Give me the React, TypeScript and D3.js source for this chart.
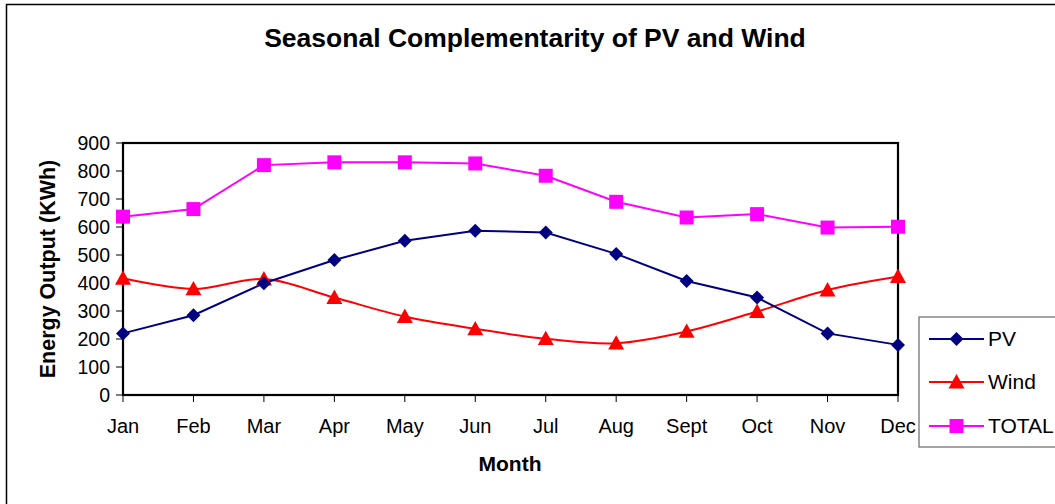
import React from "react";
import * as d3 from "d3";

const months = ["Jan", "Feb", "Mar", "Apr", "May", "Jun", "Jul", "Aug", "Sept", "Oct", "Nov", "Dec"];
const pv = [220, 285, 399, 482, 551, 587, 580, 504, 407, 348, 220, 179];
const wind = [417, 379, 414, 348, 280, 236, 201, 185, 227, 298, 375, 423];
const total = [637, 664, 821, 831, 831, 827, 783, 690, 634, 646, 598, 601];
const yTicks = [0, 100, 200, 300, 400, 500, 600, 700, 800, 900];

const W = 1055, H = 504;
const plot = { left: 123, right: 898, top: 143, bottom: 395 };
const font = "Arial, 'Liberation Sans', Helvetica, sans-serif";

export default function App() {
  const x = d3.scalePoint<string>().domain(months).range([plot.left, plot.right]);
  const y = d3.scaleLinear().domain([0, 900]).range([plot.bottom, plot.top]);

  const straight = d3.line<number>().x((_, i) => x(months[i])!).y((d) => y(d));
  const smooth = d3
    .line<number>()
    .x((_, i) => x(months[i])!)
    .y((d) => y(d))
    .curve(d3.curveCatmullRom.alpha(0.5));

  const diamond = (cx: number, cy: number, r = 7) =>
    `M${cx},${cy - r}L${cx + r},${cy}L${cx},${cy + r}L${cx - r},${cy}Z`;
  const triangle = (cx: number, cy: number, r = 8) =>
    `M${cx},${cy - r}L${cx + r},${cy + r * 0.8}L${cx - r},${cy + r * 0.8}Z`;
  const square = (cx: number, cy: number, r = 7) =>
    `M${cx - r},${cy - r}h${2 * r}v${2 * r}h${-2 * r}Z`;

  const legendItems = [
    { name: "PV", color: "#000080", marker: diamond, y: 339 },
    { name: "Wind", color: "#FF0000", marker: triangle, y: 382 },
    { name: "TOTAL", color: "#FF00FF", marker: square, y: 426 },
  ];

  return (
    <svg width={W} height={H} style={{ position: "absolute", left: 0, top: 0, background: "#fff" }} fontFamily={font}>
      <rect x={0} y={0} width={W} height={H} fill="#fff" />
      {/* outer chart border */}
      <path d={`M6.5,${H + 5}V4.5H${W + 5}`} fill="none" stroke="#000" strokeWidth={1.5} />

      <text x={535} y={47} textAnchor="middle" fontSize={26.5} fontWeight="bold">
        Seasonal Complementarity of PV and Wind
      </text>

      {/* plot frame */}
      <rect x={plot.left} y={plot.top} width={plot.right - plot.left} height={plot.bottom - plot.top} fill="none" stroke="#000" strokeWidth={2.2} />

      {/* y ticks */}
      {yTicks.map((t) => (
        <g key={t}>
          <line x1={plot.left - 7} x2={plot.left} y1={y(t)} y2={y(t)} stroke="#000" strokeWidth={1} />
          <text x={plot.left - 13} y={y(t)} dy="0.35em" textAnchor="end" fontSize={19.5}>
            {t}
          </text>
        </g>
      ))}

      {/* x ticks */}
      {months.map((m) => (
        <g key={m}>
          <line x1={x(m)} x2={x(m)} y1={plot.bottom} y2={plot.bottom + 7} stroke="#000" strokeWidth={1} />
          <text x={x(m)} y={433} textAnchor="middle" fontSize={20}>
            {m}
          </text>
        </g>
      ))}

      <text x={510} y={471} textAnchor="middle" fontSize={21} fontWeight="bold">
        Month
      </text>
      <text transform={`translate(55,269) rotate(-90)`} textAnchor="middle" fontSize={21.5} fontWeight="bold">
        Energy Output (KWh)
      </text>

      {/* series */}
      <path d={straight(total)!} fill="none" stroke="#FF00FF" strokeWidth={2} />
      <path d={smooth(wind)!} fill="none" stroke="#FF0000" strokeWidth={2} />
      <path d={straight(pv)!} fill="none" stroke="#000080" strokeWidth={2} />

      {total.map((v, i) => (
        <path key={"t" + i} d={square(x(months[i])!, y(v))} fill="#FF00FF" />
      ))}
      {wind.map((v, i) => (
        <path key={"w" + i} d={triangle(x(months[i])!, y(v))} fill="#FF0000" />
      ))}
      {pv.map((v, i) => (
        <path key={"p" + i} d={diamond(x(months[i])!, y(v))} fill="#000080" />
      ))}

      {/* legend */}
      <rect x={919} y={317} width={160} height={130} fill="#fff" stroke="#666" strokeWidth={1.2} />
      {legendItems.map((it) => (
        <g key={it.name}>
          <line x1={929} x2={984} y1={it.y} y2={it.y} stroke={it.color} strokeWidth={2} />
          <path d={it.marker(956.5, it.y)} fill={it.color} />
          <text x={988} y={it.y} dy="0.35em" fontSize={21}>
            {it.name}
          </text>
        </g>
      ))}
    </svg>
  );
}
